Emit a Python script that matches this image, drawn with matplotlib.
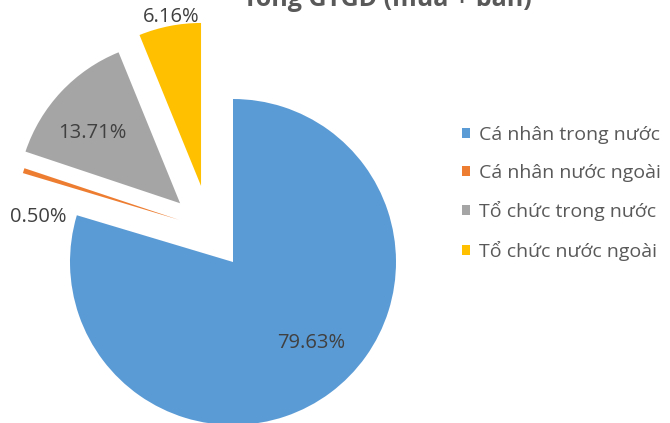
import numpy as np
import matplotlib.pyplot as plt
from matplotlib.patches import Patch

plt.rcParams['font.family'] = ['Open Sans', 'DejaVu Sans']

# data
title = 'Tổng GTGD (mua + bán)'
categories = ['Cá nhân trong nước', 'Cá nhân nước ngoài', 'Tổ chức trong nước', 'Tổ chức nước ngoài']
shares = [79.63, 0.50, 13.71, 6.16]
colors = ['#5b9bd5', '#ed7d31', '#a5a5a5', '#ffc000']

# how far / in which direction each slice is pulled out (radius units, degrees)
pull_dist = [0, 0.42, 0.485, 0.506]
pull_dir = [0, 142, 132, 112.8]
label_dist = [0.69, 0.865, 0.69, 1.05]
label_shift = [7.5, 16.4, 4.5, -1]

W, H = 670, 423
R = 163.0           # pie radius in px
cx, cy = 233, 161   # pie centre, px from bottom-left

fig = plt.figure(figsize=(W / 100, H / 100), dpi=100)
ax = fig.add_axes([0, 0, 1, 1])

wedges, _ = ax.pie(shares, colors=colors, startangle=90,
                   counterclock=False, radius=1, normalize=True,
                   wedgeprops=dict(linewidth=0))
for w, d, a in zip(wedges, pull_dist, pull_dir):
    w.set_center((d * np.cos(np.deg2rad(a)), d * np.sin(np.deg2rad(a))))

ax.set_aspect('auto')
ax.set_xlim(-cx / R, (W - cx) / R)
ax.set_ylim(-cy / R, (H - cy) / R)
ax.axis('off')

for w, v, d, s in zip(wedges, shares, label_dist, label_shift):
    mid = np.deg2rad((w.theta1 + w.theta2) / 2 + s)
    x0, y0 = w.center
    ax.text(x0 + d * np.cos(mid), y0 + d * np.sin(mid), f'{v:.2f}%',
            ha='center', va='center', fontsize=14.5, color='#404040')

fig.text(387 / W, 1 - 6.5 / H, title, ha='center', va='baseline',
         fontsize=18, fontweight='bold', color='#595959')

handles = [Patch(facecolor=c, edgecolor='none') for c in colors]
fig.legend(handles, categories, loc='center left', bbox_to_anchor=(462 / W, 1 - 193.5 / H),
           frameon=False, fontsize=14, labelcolor='#595959', handlelength=0.42,
           handleheight=0.42, handletextpad=0.45, labelspacing=1.0,
           borderpad=0, borderaxespad=0)

fig.savefig('out.png', dpi=100)
